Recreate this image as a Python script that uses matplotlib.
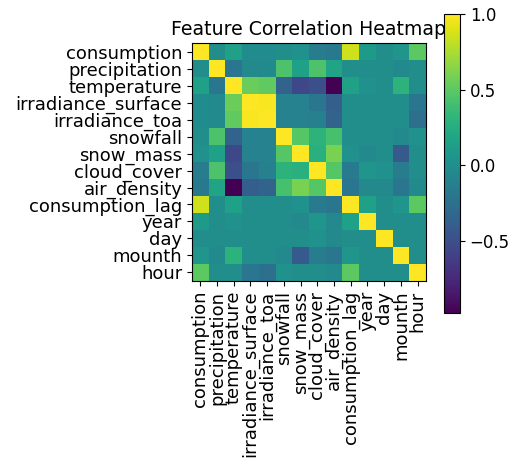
import numpy as np
import matplotlib
matplotlib.use("Agg")
import matplotlib.pyplot as plt

plt.rcParams["font.size"] = 13

# Feature names, in matrix order.
features = ["consumption", "precipitation", "temperature", "irradiance_surface",
            "irradiance_toa", "snowfall", "snow_mass", "cloud_cover", "air_density",
            "consumption_lag", "year", "day", "mounth", "hour"]

# Pairwise correlations (upper triangle incl. diagonal, row by row).
upper = [
    [1.00, 0.00, 0.15, -0.02, -0.02, 0.00, 0.02, -0.15, -0.18, 0.86, 0.10, 0.00, 0.05, 0.50],
    [1.00, -0.20, -0.05, -0.03, 0.45, 0.15, 0.45, 0.18, 0.00, 0.00, 0.00, -0.03, 0.00],
    [1.00, 0.55, 0.52, -0.35, -0.55, -0.50, -0.98, 0.15, 0.02, 0.00, 0.30, 0.00],
    [1.00, 0.98, -0.10, -0.10, -0.20, -0.38, 0.00, 0.00, 0.00, 0.00, -0.20],
    [1.00, -0.10, -0.10, -0.12, -0.35, 0.00, 0.00, 0.00, 0.00, -0.25],
    [1.00, 0.48, 0.30, 0.42, 0.00, 0.00, 0.00, -0.05, 0.02],
    [1.00, 0.28, 0.60, 0.02, -0.05, 0.00, -0.42, 0.00],
    [1.00, 0.48, -0.17, 0.05, 0.02, -0.15, 0.00],
    [1.00, -0.20, -0.05, -0.05, -0.20, -0.03],
    [1.00, 0.15, 0.00, 0.05, 0.50],
    [1.00, 0.00, 0.00, 0.00],
    [1.00, 0.00, 0.00],
    [1.00, 0.00],
    [1.00],
]

cbar_ticks = [-0.5, 0.0, 0.5, 1.0]

n = len(features)
corr = np.zeros((n, n))
for i, row in enumerate(upper):
    corr[i, i:] = row
    corr[i:, i] = row

fig = plt.figure(figsize=(5.13, 4.67), dpi=100)
ax = fig.add_axes([0.3743, 0.3983, 0.456, 0.5096])
cax = fig.add_axes([0.8655, 0.3298, 0.0312, 0.6396])

im = ax.imshow(corr, cmap="viridis", aspect="auto")
cb = fig.colorbar(im, cax=cax, ticks=cbar_ticks)
cb.ax.set_yticklabels([f"{t:.1f}".replace("-", "\u2212") for t in cbar_ticks], fontsize=12)

ax.set_xticks(range(n))
ax.set_xticklabels(features, rotation=90)
ax.set_yticks(range(n))
ax.set_yticklabels(features)
ax.set_title("Feature Correlation Heatmap", fontsize=13.6)

fig.savefig("out.png", dpi=100)
